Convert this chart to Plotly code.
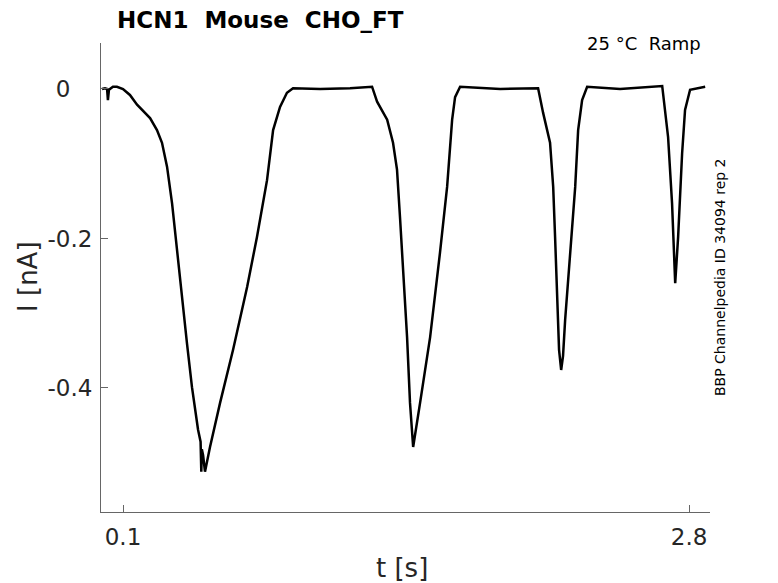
import plotly.graph_objects as go

# Time (s) and current (nA)
t_s = [0.000, 0.014, 0.024, 0.028, 0.033, 0.052, 0.071, 0.100, 0.133, 0.167,
       0.229, 0.262, 0.286, 0.310, 0.334, 0.358, 0.381, 0.405, 0.429, 0.458,
       0.470, 0.4735, 0.476, 0.482, 0.491, 0.500, 0.515, 0.563, 0.625, 0.692,
       0.739, 0.787, 0.816, 0.849, 0.882, 0.911, 1.040, 1.183, 1.288, 1.312,
       1.360, 1.388, 1.407, 1.422, 1.436, 1.455, 1.469, 1.484, 1.517, 1.565,
       1.612, 1.646, 1.670, 1.684, 1.708, 1.899, 2.080, 2.104, 2.137, 2.152,
       2.161, 2.171, 2.180, 2.190, 2.199, 2.209, 2.233, 2.257, 2.271, 2.290,
       2.314, 2.471, 2.672, 2.676, 2.700, 2.719, 2.734, 2.748, 2.767, 2.781,
       2.805, 2.877]
i_nA = [0.000, 0.001, 0.000, -0.015, -0.001, 0.003, 0.003, 0.000, -0.008, -0.021,
        -0.039, -0.055, -0.072, -0.104, -0.153, -0.219, -0.278, -0.340, -0.399, -0.456,
        -0.472, -0.512, -0.482, -0.490, -0.512, -0.500, -0.479, -0.420, -0.349, -0.265,
        -0.198, -0.122, -0.055, -0.024, -0.005, 0.001, 0.000, 0.001, 0.003, -0.017,
        -0.041, -0.072, -0.108, -0.175, -0.242, -0.332, -0.420, -0.479, -0.420, -0.332,
        -0.219, -0.131, -0.041, -0.011, 0.003, 0.000, 0.001, -0.032, -0.072, -0.131,
        -0.198, -0.286, -0.349, -0.376, -0.357, -0.309, -0.219, -0.131, -0.055, -0.015,
        0.003, 0.000, 0.004, -0.005, -0.064, -0.153, -0.260, -0.198, -0.086, -0.028,
        -0.001, 0.003]

x_ticks = [0.1, 2.8]
x_tick_labels = ["0.1", "2.8"]
y_ticks = [0, -0.2, -0.4]
y_tick_labels = ["0&nbsp;&nbsp;&nbsp;", "-0.2", "-0.4"]

FONT = "DejaVu Sans"
TXT = "#262626"
AX = "#666666"

fig = go.Figure()
fig.add_trace(go.Scatter(x=t_s, y=i_nA, mode="lines",
                         line=dict(color="black", width=2.5),
                         showlegend=False, hoverinfo="skip"))

fig.update_layout(
    width=770, height=575,
    margin=dict(l=93, r=68, t=35, b=71),
    paper_bgcolor="white", plot_bgcolor="white",
    font=dict(family=FONT, color=TXT),
    xaxis=dict(range=[-0.005, 2.9], tickvals=x_ticks, ticktext=x_tick_labels,
               ticks="inside", ticklen=7, tickcolor=AX, tickwidth=1,
               showline=True, linecolor=AX, linewidth=1, mirror=False,
               showgrid=False, zeroline=False, ticklabelstandoff=4,
               tickfont=dict(size=23, family=FONT, color=TXT)),
    yaxis=dict(range=[-0.566, 0.0615], tickvals=y_ticks, ticktext=y_tick_labels,
               ticks="inside", ticklen=7, tickcolor=AX, tickwidth=1,
               showline=True, linecolor=AX, linewidth=1, mirror=False,
               showgrid=False, zeroline=False, ticklabelstandoff=3,
               tickfont=dict(size=23, family=FONT, color=TXT)),
    annotations=[
        dict(text="<b>HCN1  Mouse  CHO_FT</b>", xref="paper", yref="paper",
             x=0.023, y=1.0, yshift=23, xanchor="left", yanchor="middle", showarrow=False,
             font=dict(size=23, family=FONT, color="black")),
        dict(text="25 °C  Ramp", xref="paper", yref="paper",
             x=1.0, y=1.0, xshift=-7, yshift=12, xanchor="right", yanchor="top", showarrow=False,
             font=dict(size=18, family=FONT, color="black")),
        dict(text="BBP Channelpedia ID 34094 rep 2", xref="paper", yref="paper",
             x=1.0, y=0.501, xshift=0, xanchor="left", yanchor="middle", textangle=-90,
             showarrow=False, font=dict(size=14, family=FONT, color="black")),
        dict(text="t [s]", xref="paper", yref="paper",
             x=(402 - 101) / 609, y=-0.119, xanchor="center", yanchor="middle", showarrow=False,
             font=dict(size=26, family=FONT, color=TXT)),
        dict(text="I [nA]", xref="paper", yref="paper",
             x=-0.12, y=0.501, xanchor="center", yanchor="middle", textangle=-90, showarrow=False,
             font=dict(size=26, family=FONT, color=TXT)),
    ],
)

fig.write_html("out.html")
